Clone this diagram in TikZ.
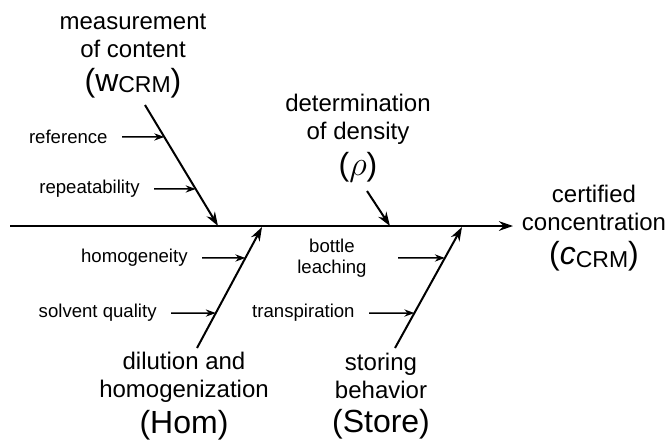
\documentclass[tikz,border=0pt]{standalone}
\usepackage{fontspec}
\setmainfont{Liberation Sans}
\usetikzlibrary{arrows.meta}
\tikzset{
  big/.style={align=center,font=\fontsize{12}{14}\selectfont,inner sep=0pt},
  small/.style={align=center,font=\fontsize{9.3}{10.5}\selectfont,inner sep=0pt,anchor=east},
  bone/.style={line width=1pt,-{Stealth[length=7pt,width=4.8pt]}},
  rib/.style={line width=0.75pt,-{Stealth[length=5pt,width=3.6pt]},shorten <=7pt}
}
\newcommand{\sym}[1]{{\fontsize{16}{19}\selectfont #1}}
\newcommand{\crm}[1]{\raisebox{#1}{\fontsize{11.5}{11.5}\selectfont CRM}}

\begin{document}
\begin{tikzpicture}[x=0.5pt,y=-0.5pt]
  \useasboundingbox (0,0) rectangle (669,441);
  \draw
    (10,226) coordinate (tail)
    (513,226) coordinate (head)
    (145,105) coordinate (w0) (218,226) coordinate (w1)
    (367,191) coordinate (d0) (390,226) coordinate (d1)
    (197,348) coordinate (h0) (262,227) coordinate (h1)
    (395,348) coordinate (s0) (462,227) coordinate (s1)
    (133,56) node[big] (meas) {measurement\\of content\\[3pt]\sym{(w\crm{-0.3pt})}}
    (358,138) node[big] (dens) {determination\\of density\\[3pt]\sym{($\rho$)}}
    (594,228) node[big] (cert) {certified\\concentration\\[3pt]\sym{(\textit{c}\crm{-1.5pt})}}
    (184,396) node[big] (dil) {dilution and\\homogenization\\[3pt]\sym{(Hom)}}
    (381,396) node[big] (stor) {storing\\behavior\\[3pt]\sym{(Store)}}
    (108,137) node[small] (ref) {reference}
    (140,189) node[small] (rep) {repeatability}
    (188,258) node[small] (homog) {homogeneity}
    (157,313) node[small] (solv) {solvent quality}
    (367,258) node[small] (bott) {bottle\\leaching}
    (355,313) node[small] (transp) {transpiration};
  \begin{scope}[bone]
    \draw (tail) -- (head);
    \draw (w0) -- coordinate[pos=0.264] (wa) coordinate[pos=0.694] (wb) (w1);
    \draw (d0) -- (d1);
    \draw (h0) -- coordinate[pos=0.289] (ha) coordinate[pos=0.744] (hb) (h1);
    \draw (s0) -- coordinate[pos=0.289] (sa) coordinate[pos=0.744] (sb) (s1);
  \end{scope}
  \begin{scope}[rib]
    \draw (ref) -- (wa);
    \draw (rep) -- (wb);
    \draw (homog) -- (hb);
    \draw (solv) -- (ha);
    \draw[shorten <=15.5pt] (bott) -- (sb);
    \draw (transp) -- (sa);
  \end{scope}
\end{tikzpicture}
\end{document}
